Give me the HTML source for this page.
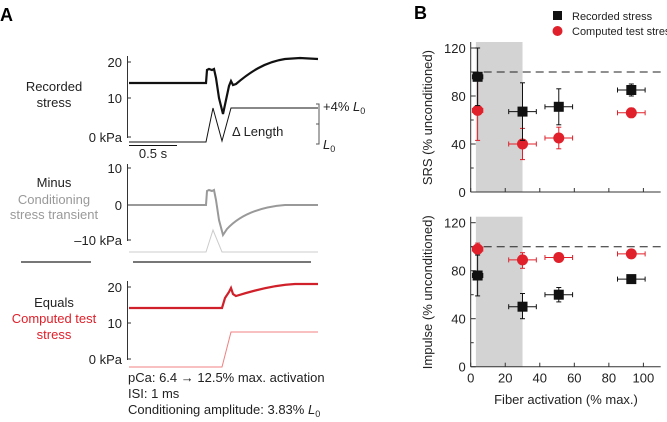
<!DOCTYPE html>
<html><head><meta charset="utf-8">
<style>
body{margin:0;background:#fff;}
svg{display:block;font-family:"Liberation Sans",Arial,sans-serif;}
</style></head>
<body>
<svg id="fig" width="667" height="422" viewBox="0 0 667 422">
<!-- Panel A -->
<text x="0" y="21" font-size="18" font-weight="bold">A</text>
<g font-size="13" fill="#222">
  <text x="54" y="91" text-anchor="middle">Recorded</text>
  <text x="54" y="107" text-anchor="middle">stress</text>
  <line x1="127.5" y1="56" x2="127.5" y2="138" stroke="#333" stroke-width="1"/>
  <line x1="127.5" y1="62" x2="131" y2="62" stroke="#333"/>
  <line x1="127.5" y1="98" x2="131" y2="98" stroke="#333"/>
  <line x1="127.5" y1="137" x2="131" y2="137" stroke="#333"/>
  <text x="122" y="67" text-anchor="end">20</text>
  <text x="122" y="103" text-anchor="end">10</text>
  <text x="122" y="142" text-anchor="end">0 kPa</text>
  <path d="M129,83 L206,83 L207,70 L209,69 L212,70 L214,69 L216,78 L219,98 L223,114 L226,100 L229,86 L231,81 L233,85 L236,84 C250,72 265,62 285,59 L300,58 L318,59" fill="none" stroke="#111" stroke-width="2.2"/>
  <path d="M129,142 L206,142 L213,108 L222,141 L231,108 L318,108" fill="none" stroke="#111" stroke-width="1"/>
  <line x1="129" y1="145.5" x2="177" y2="145.5" stroke="#111" stroke-width="1"/>
  <text x="153" y="158" text-anchor="middle">0.5 s</text>
  <text x="232" y="136">Δ Length</text>
  <path d="M316,104 L319,104 L319,144 L316,144 M316,124 L319,124" fill="none" stroke="#555" stroke-width="1"/>
  <text x="323" y="111">+4% <tspan font-style="italic">L</tspan><tspan font-size="9" dy="3">0</tspan></text>
  <text x="323" y="149"><tspan font-style="italic">L</tspan><tspan font-size="9" dy="3">0</tspan></text>
</g>
<g font-size="13" fill="#222">
  <text x="54" y="187" text-anchor="middle">Minus</text>
  <text x="54" y="204" text-anchor="middle" fill="#999">Conditioning</text>
  <text x="54" y="219" text-anchor="middle" fill="#999">stress transient</text>
  <line x1="127.5" y1="164" x2="127.5" y2="241" stroke="#333"/>
  <line x1="127.5" y1="168" x2="131" y2="168" stroke="#333"/>
  <line x1="127.5" y1="205" x2="131" y2="205" stroke="#333"/>
  <line x1="127.5" y1="240" x2="131" y2="240" stroke="#333"/>
  <text x="122" y="173" text-anchor="end">10</text>
  <text x="122" y="210" text-anchor="end">0</text>
  <text x="122" y="245" text-anchor="end">–10 kPa</text>
  <path d="M129,205 L206,205 L207,191 L209,190 L212,191 L214,190 L216,200 L219,220 L223,235 L227,229 C240,215 260,207 285,205 L318,205" fill="none" stroke="#999" stroke-width="2"/>
  <path d="M129,252 L206,252 L213,230 L222,252 L318,252" fill="none" stroke="#ccc" stroke-width="1"/>
</g>
<line x1="21" y1="262" x2="91" y2="262" stroke="#777" stroke-width="2"/>
<line x1="133" y1="262" x2="311" y2="262" stroke="#777" stroke-width="2"/>
<g font-size="13" fill="#222">
  <text x="54" y="307" text-anchor="middle">Equals</text>
  <text x="54" y="323" text-anchor="middle" fill="#e0202a">Computed test</text>
  <text x="54" y="339" text-anchor="middle" fill="#e0202a">stress</text>
  <line x1="127.5" y1="281" x2="127.5" y2="360" stroke="#333"/>
  <line x1="127.5" y1="287" x2="131" y2="287" stroke="#333"/>
  <line x1="127.5" y1="323" x2="131" y2="323" stroke="#333"/>
  <line x1="127.5" y1="359" x2="131" y2="359" stroke="#333"/>
  <text x="122" y="292" text-anchor="end">20</text>
  <text x="122" y="328" text-anchor="end">10</text>
  <text x="122" y="364" text-anchor="end">0 kPa</text>
  <path d="M129,308 L222,308 L225,298 L229,292 L231,288 L233,294 L236,296 C255,290 275,285 295,284 L318,284" fill="none" stroke="#d0202a" stroke-width="2.2"/>
  <path d="M129,367 L222,367 L231,332 L318,332" fill="none" stroke="#f08080" stroke-width="1"/>
  <text x="128" y="382">pCa: 6.4 → 12.5% max. activation</text>
  <text x="128" y="398">ISI: 1 ms</text>
  <text x="128" y="414">Conditioning amplitude: 3.83% <tspan font-style="italic">L</tspan><tspan font-size="9" dy="3">0</tspan></text>
</g>
<!-- Panel B -->
<text x="414" y="19" font-size="18" font-weight="bold">B</text>
<rect x="553" y="11" width="9" height="9" fill="#111"/>
<text x="572" y="20" font-size="11" fill="#222">Recorded stress</text>
<circle cx="557.5" cy="31" r="5" fill="#e0202a"/>
<text x="572" y="35" font-size="11" fill="#222">Computed test stress</text>
<g id="plots"></g>
</svg>
<script>
const xVals = [4, 30, 51, 93];
const xErr = [3, 8, 8, 8];
const srsRecorded = [96, 67, 71, 85];
const srsRecordedHi = [120, 91, 86, 90];
const srsRecordedLo = [72, 43, 56, 80];
const srsComputed = [68, 40, 45, 66];
const srsComputedHi = [93, 53, 54, 70];
const srsComputedLo = [43, 27, 36, 62];
const impRecorded = [76, 50, 60, 73];
const impRecordedHi = [93, 61, 66, 75];
const impRecordedLo = [59, 40, 54, 71];
const impComputed = [98, 89, 91, 94];
const impComputedHi = [103, 95, 93, 96];
const impComputedLo = [94, 82, 89, 92];
const yTicks = [0, 40, 80, 120];
const xTicks = [0, 20, 40, 60, 80, 100];

const NS = 'http://www.w3.org/2000/svg';
const root = document.getElementById('plots');
function el(tag, attrs, parent) {
  const e = document.createElementNS(NS, tag);
  for (const k in attrs) e.setAttribute(k, attrs[k]);
  (parent || root).appendChild(e);
  return e;
}
const sx = v => 470.7 + v * 1.727;
function drawPlot(y0, name, title, rec, recHi, recLo, comp, compHi, compLo, showXLabels) {
  const sy = v => y0 - v * 1.2;
  const g = el('g', {});
  
  
  const shade = el('rect', {x: sx(3), y: sy(125), width: sx(30) - sx(3), height: sy(0) - sy(125), fill: '#d3d3d3'}, g);
  
  
  el('line', {x1: sx(0), y1: sy(125), x2: sx(0), y2: sy(0), stroke: '#333'}, g);
  el('line', {x1: sx(0), y1: sy(0), x2: sx(110), y2: sy(0), stroke: '#333'}, g);
  [20, 60, 100].forEach(t => el('line', {x1: sx(0), y1: sy(t), x2: sx(0) + 3, y2: sy(t), stroke: '#333'}, g));
  yTicks.forEach(t => {
    el('line', {x1: sx(0), y1: sy(t), x2: sx(0) + 5, y2: sy(t), stroke: '#333'}, g);
    const tx = el('text', {x: sx(0) - 5, y: sy(t) + 5, 'font-size': 13, 'text-anchor': 'end', fill: '#222'}, g);
    tx.textContent = t;
  });
  xTicks.forEach(t => {
    el('line', {x1: sx(t), y1: sy(0), x2: sx(t), y2: sy(0) - 4, stroke: '#333'}, g);
    if (showXLabels) {
      const tx = el('text', {x: sx(t), y: sy(0) + 16, 'font-size': 13, 'text-anchor': 'middle', fill: '#222'}, g);
      tx.textContent = t;
    }
  });
  const yt = el('text', {x: 0, y: 0, 'font-size': 13, 'text-anchor': 'middle', fill: '#222', transform: 'translate(432,' + sy(62) + ') rotate(-90)'}, g);
  
  
  yt.textContent = title;
  const dl = el('line', {x1: sx(0), y1: sy(100), x2: sx(110), y2: sy(100), stroke: '#222', 'stroke-dasharray': '8,5'}, g);
  
  
  function series(vals, hi, lo, color, kind) {
    vals.forEach((v, i) => {
      const x = sx(xVals[i]), y = sy(v);
      el('line', {x1: x, y1: sy(lo[i]), x2: x, y2: sy(hi[i]), stroke: color}, g);
      el('line', {x1: x - 2.5, y1: sy(lo[i]), x2: x + 2.5, y2: sy(lo[i]), stroke: color}, g);
      el('line', {x1: x - 2.5, y1: sy(hi[i]), x2: x + 2.5, y2: sy(hi[i]), stroke: color}, g);
      el('line', {x1: sx(xVals[i] - xErr[i]), y1: y, x2: sx(xVals[i] + xErr[i]), y2: y, stroke: color}, g);
      el('line', {x1: sx(xVals[i] - xErr[i]), y1: y - 2.5, x2: sx(xVals[i] - xErr[i]), y2: y + 2.5, stroke: color}, g);
      el('line', {x1: sx(xVals[i] + xErr[i]), y1: y - 2.5, x2: sx(xVals[i] + xErr[i]), y2: y + 2.5, stroke: color}, g);
      let m;
      if (kind === 'sq') m = el('rect', {x: x - 5, y: y - 5, width: 10, height: 10, fill: '#111'}, g);
      else m = el('circle', {cx: x, cy: y, r: 5.5, fill: '#e0202a'}, g);
      
      
    });
  }
  series(comp, compHi, compLo, '#e0202a', 'ci');
  series(rec, recHi, recLo, '#111', 'sq');
}
drawPlot(192, 'srs-plot', 'SRS (% unconditioned)', srsRecorded, srsRecordedHi, srsRecordedLo, srsComputed, srsComputedHi, srsComputedLo, false);
drawPlot(366.7, 'impulse-plot', 'Impulse (% unconditioned)', impRecorded, impRecordedHi, impRecordedLo, impComputed, impComputedHi, impComputedLo, true);
const xt = el('text', {x: 566, y: 404, 'font-size': 13, 'text-anchor': 'middle', fill: '#222'});


xt.textContent = 'Fiber activation (% max.)';
</script>
</body></html>
